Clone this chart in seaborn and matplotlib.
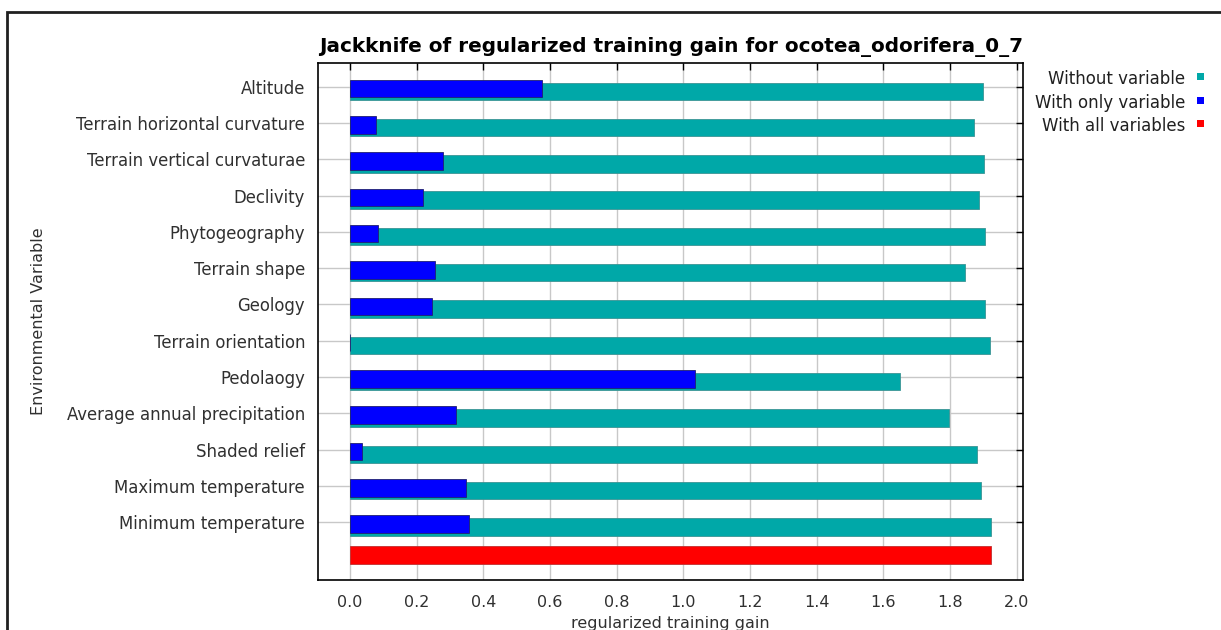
import numpy as np
import matplotlib
matplotlib.use('Agg')
import matplotlib.pyplot as plt
from matplotlib.patches import Rectangle
from matplotlib.lines import Line2D
import seaborn as sns

# Jackknife results
variables = ['Altitude', 'Terrain horizontal curvature', 'Terrain vertical curvaturae',
             'Declivity', 'Phytogeography', 'Terrain shape', 'Geology',
             'Terrain orientation', 'Pedolaogy', 'Average annual precipitation',
             'Shaded relief', 'Maximum temperature', 'Minimum temperature']
without_variable = [1.898, 1.873, 1.903, 1.887, 1.905, 1.845, 1.905,
                    1.921, 1.649, 1.797, 1.881, 1.893, 1.922]
only_variable = [0.577, 0.077, 0.280, 0.219, 0.084, 0.255, 0.246,
                 0.0, 1.035, 0.318, 0.036, 0.347, 0.357]
all_variables = 1.922
all_label = 'With all variables'

legend_labels = ['Without variable', 'With only variable', 'With all variables']
teal = '#00A8A8'
blue = '#0000FF'
red = '#FF0000'

sns.set_style('white')
plt.rcParams['font.family'] = ['DejaVu Sans']

W, H = 1221, 630
fig, ax = plt.subplots(figsize=(W / 100, H / 100), dpi=100)
fig.subplots_adjust(left=318.3 / W, right=1023.3 / W, top=1 - 63.3 / H, bottom=1 - 580 / H)

rows = variables + [all_label]


def draw(values, cats, color, edge, shift):
    n0 = len(ax.patches)
    sns.barplot(x=values, y=cats, order=rows, color=color, saturation=1,
                width=0.48, errorbar=None, edgecolor=edge, linewidth=0.6,
                ax=ax, zorder=3)
    for p in ax.patches[n0:]:
        p.set_y(p.get_y() + shift)


draw(without_variable, variables, teal, '#3c9494', 0.125)
draw(only_variable, variables, blue, '#202070', 0.05)
draw([all_variables], [all_label], red, '#c03030', -0.1)

ax.set_axisbelow(True)
ax.grid(True, color='#c8c8c8', linewidth=1)

ax.set_yticks(range(len(variables)))
ax.set_yticklabels(variables)
ax.set_ylim(13.59, -0.645)
xt = np.arange(0, 2.01, 0.2)
ax.set_xticks(xt)
ax.set_xticklabels([f'{v:.1f}' for v in xt])
ax.set_xlim(-0.095, 2.02)

ax.tick_params(axis='both', direction='in', length=5, width=1, color='black',
               top=True, right=True, labelcolor='#303030')
ax.tick_params(axis='y', pad=9.5, labelsize=11.9)
ax.tick_params(axis='x', pad=11, labelsize=11.5)
for s in ax.spines.values():
    s.set_color('black')
    s.set_linewidth(1.2)

ax.set_xlabel('regularized training gain', fontsize=11.5, color='#303030', labelpad=4)
ax.set_ylabel('Environmental Variable', fontsize=11.5, color='#303030')
ax.yaxis.set_label_coords((46 - 318.3) / 705, 0.5)
ax.set_title('Jackknife of regularized training gain for ocotea_odorifera_0_7',
             fontsize=14.4, fontweight='bold', color='black', pad=8)

# legend on the right: text right-aligned, small square after it
for i, (lab, col) in enumerate(zip(legend_labels, [teal, blue, red])):
    yc = 79 + 23.5 * i
    fig.text(1185 / W, 1 - yc / H, lab, ha='right', va='center',
             fontsize=12, color='#202020')
    fig.add_artist(Rectangle((1197 / W, 1 - (yc + 1) / H), 7 / W, 7 / H,
                             transform=fig.transFigure, facecolor=col,
                             edgecolor='none'))

# outer frame: only the left and top edges are inside the picture
fx, fy = 7 / W, 1 - 12 / H
fig.add_artist(Line2D([fx, fx, 1.0], [0.0, fy, fy], transform=fig.transFigure,
                      color='#202020', linewidth=2, solid_capstyle='butt',
                      solid_joinstyle='miter'))

fig.savefig('out.png', dpi=100)
